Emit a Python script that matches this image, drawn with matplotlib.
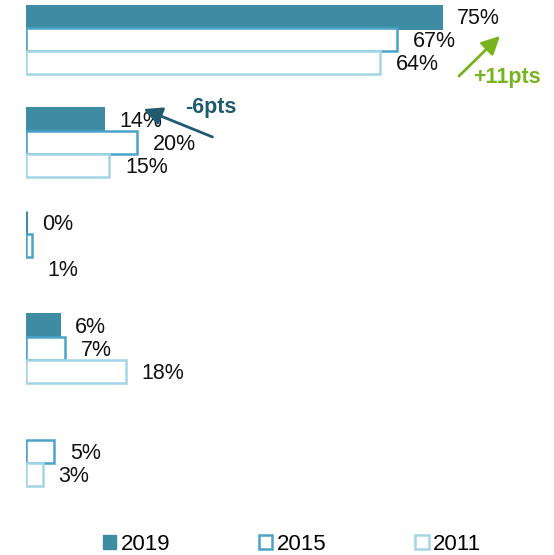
import matplotlib.pyplot as plt
import numpy as np
from matplotlib.patches import Patch

plt.rcParams["font.family"] = ["Liberation Sans", "DejaVu Sans"]

years = ["2019", "2015", "2011"]
v2019 = [75, 14, 0, 6, np.nan]
v2015 = [67, 20, 1, 7, 5]
v2011 = [64, 15, np.nan, 18, 3]
lab2019 = ["75%", "14%", "0%", "6%", ""]
lab2015 = ["67%", "20%", "", "7%", "5%"]
lab2011 = ["64%", "15%", "1%", "18%", "3%"]

fill_col = "#3d8ca4"
edge_cols = ["#3d8ca4", "#4aa3c9", "#a3d5e6"]

fig = plt.figure(figsize=(5.54, 5.55), dpi=100)
W, H = 554, 555
# axes placed in pixel terms: left 26px, top 5px, bottom 500px
ax = fig.add_axes([26 / W, 1 - 500 / H, (W - 26) / W, 495 / H])

gap = 4.48  # group spacing in row units
series = [v2019, v2015, v2011]
labels = [lab2019, lab2015, lab2011]
for k, (vals, labs) in enumerate(zip(series, labels)):
    ys = np.arange(len(vals)) * gap + k
    if k == 0:
        ax.barh(ys, vals, height=1.0, color=fill_col, edgecolor=fill_col, linewidth=2.2)
    else:
        ax.barh(ys, vals, height=1.0, color="white", edgecolor=edge_cols[k], linewidth=1.8)
    for y, v, t in zip(ys, vals, labs):
        if not t:
            continue
        xv = max(0 if np.isnan(v) else v, float(t.rstrip("%")))
        ax.text(xv + 2.9, y + 0.08, t, va="center", ha="left", fontsize=15.5, color="#111111")

ax.set_xlim(0, (W - 26) / (415 / 75))
ax.set_ylim(21.02, -0.5)
ax.axis("off")

# change arrows
ax.annotate("", xy=(502 / W, 1 - 34 / H), xytext=(457 / W, 1 - 78 / H),
            xycoords="figure fraction", textcoords="figure fraction",
            arrowprops=dict(arrowstyle="-|>,head_length=1.1,head_width=0.55",
                            color="#78b41e", lw=2))
fig.text(473 / W, 1 - 78 / H, "+11pts", color="#78b41e", fontsize=15.5,
         fontweight="bold", va="center", ha="left")
ax.annotate("", xy=(141 / W, 1 - 108 / H), xytext=(215 / W, 1 - 138 / H),
            xycoords="figure fraction", textcoords="figure fraction",
            arrowprops=dict(arrowstyle="-|>,head_length=1.1,head_width=0.55",
                            color="#1f5a6e", lw=2))
fig.text(185 / W, 1 - 107 / H, "-6pts", color="#1f5a6e", fontsize=15.5,
         fontweight="bold", va="center", ha="left")

handles = [Patch(facecolor=fill_col, edgecolor=fill_col),
           Patch(facecolor="white", edgecolor=edge_cols[1], linewidth=1.8),
           Patch(facecolor="white", edgecolor=edge_cols[2], linewidth=1.8)]
fig.legend(handles, years, loc="center", bbox_to_anchor=(292 / W, 1 - 544.5 / H),
           ncol=3, frameon=False, fontsize=16, handlelength=0.6, handleheight=0.6,
           handletextpad=0.2, columnspacing=4.0, borderaxespad=0)

fig.savefig("out.png", dpi=100)
